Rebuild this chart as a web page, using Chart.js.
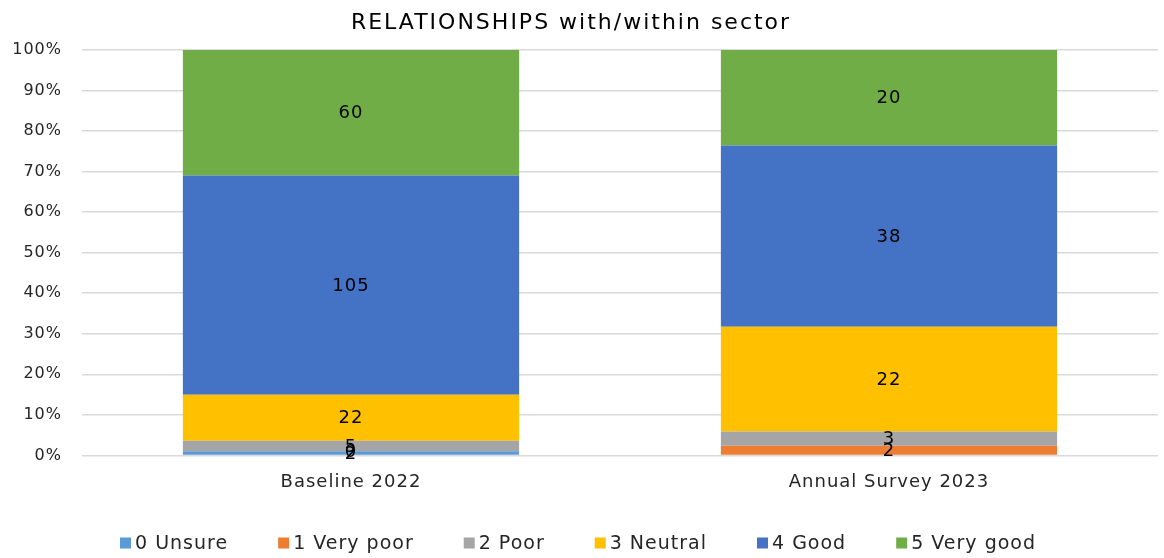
<!DOCTYPE html>
<html>
<head>
<meta charset="utf-8">
<script src="https://cdn.jsdelivr.net/npm/chart.js@4/dist/chart.umd.min.js"></script>
<style>
  html, body { margin: 0; padding: 0; background: #fff; }
  #wrap { width: 1164px; height: 558px; position: relative; }
</style>
</head>
<body>
<div id="wrap"><canvas id="c" width="1164" height="558"></canvas></div>
<script>
// Survey responses (counts) per rating, for each survey round
const chartTitle = 'RELATIONSHIPS with/within sector';
const categories = ['Baseline 2022', 'Annual Survey 2023'];
const seriesNames = ['0 Unsure', '1 Very poor', '2 Poor', '3 Neutral', '4 Good', '5 Very good'];
const unsure   = [2, null];
const veryPoor = [0, 2];
const poor     = [5, 3];
const neutral  = [22, 22];
const good     = [105, 38];
const veryGood = [60, 20];
const yTickValues = [0, 10, 20, 30, 40, 50, 60, 70, 80, 90, 100];

const seriesCounts = [unsure, veryPoor, poor, neutral, good, veryGood];
const colors = ['#5B9BD5', '#ED7D31', '#A5A5A5', '#FFC000', '#4472C4', '#70AD47'];
const FONT = "'DejaVu Sans', 'Liberation Sans', sans-serif";

// Totals per category, used to turn counts into 100%-stacked shares
const totals = categories.map((_, i) =>
  seriesCounts.reduce((s, arr) => s + (arr[i] || 0), 0));

const datasets = seriesNames.map((name, k) => ({
  label: name,
  counts: seriesCounts[k],
  data: seriesCounts[k].map((v, i) => v === null ? null : v / totals[i] * 100),
  backgroundColor: colors[k],
  borderWidth: 0,
  categoryPercentage: 1.0,
  barPercentage: 0.625
}));

// Slightly open letter spacing for all chart text
const spacing = {
  id: 'spacing',
  beforeUpdate(chart) { chart.ctx.letterSpacing = '1px'; },
  beforeDraw(chart) { chart.ctx.letterSpacing = '1px'; }
};

// Wide-tracked title above the plot
const wideTitle = {
  id: 'wideTitle',
  afterDraw(chart) {
    const ctx = chart.ctx;
    ctx.save();
    ctx.font = "22px " + FONT;
    ctx.letterSpacing = '2px';
    ctx.fillStyle = '#000';
    ctx.textAlign = 'center';
    ctx.textBaseline = 'middle';
    ctx.fillText(chartTitle, 571, 23);
    ctx.restore();
  }
};

// Count labels centred in each stacked segment
const valueLabels = {
  id: 'valueLabels',
  afterDatasetsDraw(chart) {
    const ctx = chart.ctx;
    ctx.save();
    ctx.font = "18px " + FONT;
    ctx.letterSpacing = '1px';
    ctx.fillStyle = '#000';
    ctx.textAlign = 'center';
    ctx.textBaseline = 'middle';
    chart.data.datasets.forEach((ds, di) => {
      const meta = chart.getDatasetMeta(di);
      meta.data.forEach((bar, i) => {
        const v = ds.counts[i];
        if (v === null || v === undefined) return;
        const p = bar.getProps(['x', 'y', 'base'], true);
        ctx.fillText(String(v), p.x, (p.y + p.base) / 2 + 1);
      });
    });
    ctx.restore();
  }
};

// Legend row along the bottom edge
const bottomLegend = {
  id: 'bottomLegend',
  afterDraw(chart) {
    const ctx = chart.ctx;
    ctx.save();
    ctx.font = "19px " + FONT;
    ctx.letterSpacing = '1px';
    ctx.textBaseline = 'middle';
    ctx.textAlign = 'left';
    const box = 11, gapText = 4, y = 543, left = 120, right = 1036;
    const items = chart.data.datasets.map(ds => ({
      text: ds.label, color: ds.backgroundColor,
      w: box + gapText + ctx.measureText(ds.label).width
    }));
    const used = items.reduce((s, it) => s + it.w, 0);
    const gapItem = (right - left - used) / (items.length - 1);
    let x = left;
    items.forEach(it => {
      ctx.fillStyle = it.color;
      ctx.fillRect(x, y - box / 2, box, box);
      ctx.fillStyle = '#262626';
      ctx.fillText(it.text, x + box + gapText, y + 1);
      x += it.w + gapItem;
    });
    ctx.restore();
  }
};

new Chart(document.getElementById('c'), {
  type: 'bar',
  data: { labels: categories, datasets },
  plugins: [spacing, valueLabels, wideTitle, bottomLegend],
  options: {
    responsive: false,
    animation: false,
    layout: { padding: { left: 0, right: 6, top: 50, bottom: 57 } },
    plugins: {
      legend: { display: false },
      tooltip: { enabled: false },
      title: { display: false }
    },
    scales: {
      x: {
        stacked: true,
        grid: { display: false },
        border: { display: false },
        ticks: { color: '#262626', font: { family: FONT, size: 18 }, padding: 8 }
      },
      y: {
        stacked: true,
        min: 0, max: 100,
        afterFit(scale) { scale.width = 82; },
        afterBuildTicks(scale) { scale.ticks = yTickValues.map(v => ({ value: v })); },
        grid: { color: '#D9D9D9', lineWidth: 1.5, drawTicks: false },
        border: { display: false },
        ticks: {
          color: '#262626',
          padding: 20,
          font: { family: FONT, size: 16 },
          callback: v => v + '%'
        }
      }
    }
  }
});
</script>
</body>
</html>
